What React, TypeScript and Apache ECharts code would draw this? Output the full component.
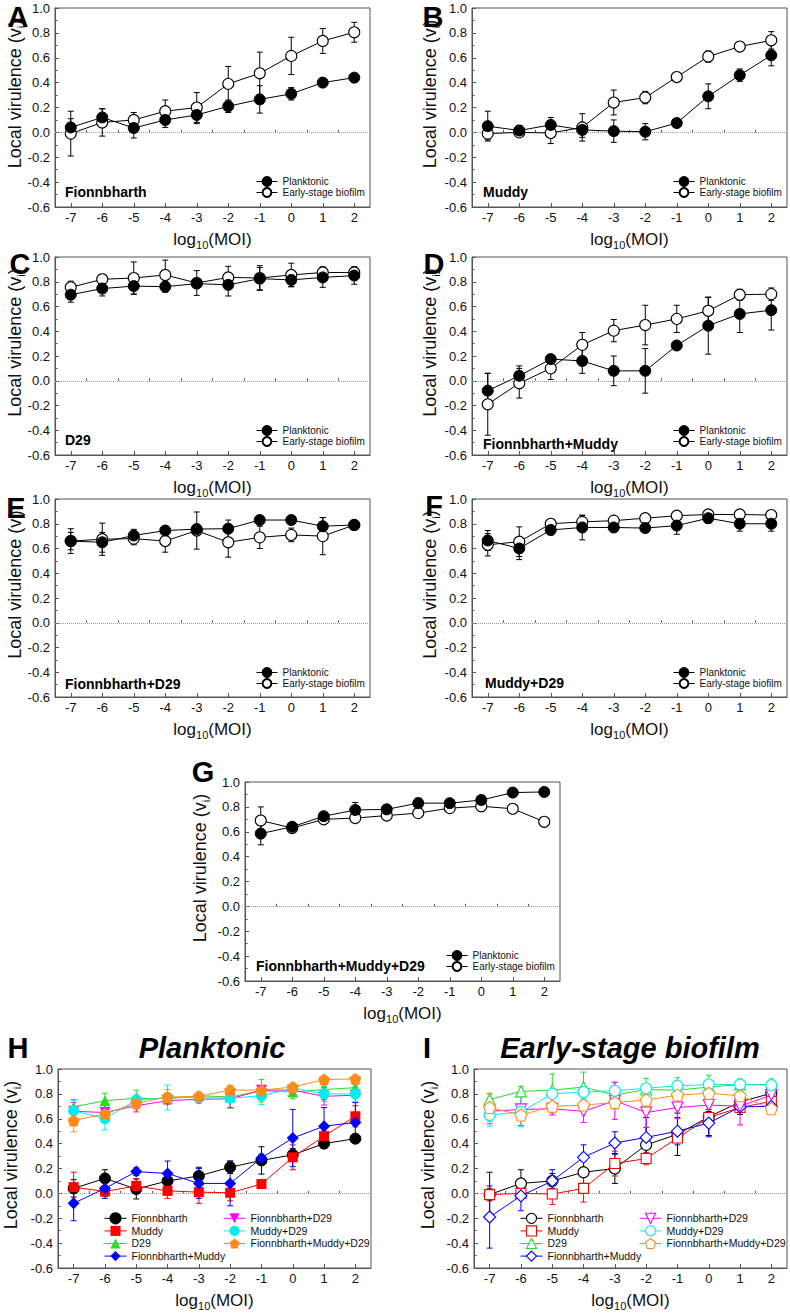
import React, { useEffect, useRef } from "react";
import * as echarts from "echarts";

const FONT = '"Liberation Sans", Arial, Helvetica, sans-serif';

// ---------- data ----------
const logMOI = [-7, -6, -5, -4, -3, -2, -1, 0, 1, 2];
const xTickValues = [-7, -6, -5, -4, -3, -2, -1, 0, 1, 2];
const xMinorTickValues = [-6.5, -5.5, -4.5, -3.5, -2.5, -1.5, -0.5, 0.5, 1.5];

const phageNames = [
  "Fionnbharth",
  "Muddy",
  "D29",
  "Fionnbharth+Muddy",
  "Fionnbharth+D29",
  "Muddy+D29",
  "Fionnbharth+Muddy+D29",
];
const stateNames = ["Planktonic", "Early-stage biofilm"];
const panelLetters = ["A", "B", "C", "D", "E", "F", "G", "H", "I"];
const summaryTitles = ["Planktonic", "Early-stage biofilm"];

// Fionnbharth
const fionnPlank = [0.04, 0.12, 0.035, 0.1, 0.14, 0.21, 0.265, 0.31, 0.4, 0.44];
const fionnPlankErr = [0.07, 0.07, 0.08, 0.06, 0.07, 0.05, 0.11, 0.05, 0.03, 0.02];
const fionnBio = [-0.01, 0.08, 0.1, 0.17, 0.2, 0.39, 0.475, 0.615, 0.735, 0.805];
const fionnBioErr = [0.18, 0.11, 0.06, 0.09, 0.12, 0.14, 0.17, 0.15, 0.1, 0.08];
// Muddy
const muddyPlank = [0.05, 0.015, 0.06, 0.02, 0.01, 0.005, 0.075, 0.29, 0.46, 0.62];
const muddyPlankErr = [0.12, 0.04, 0.06, 0.06, 0.09, 0.065, 0.03, 0.1, 0.05, 0.085];
const muddyBio = [-0.01, 0.0, -0.005, 0.04, 0.24, 0.28, 0.445, 0.61, 0.69, 0.74];
const muddyBioErr = [0.05, 0.03, 0.085, 0.11, 0.1, 0.05, 0.02, 0.045, 0.02, 0.07];
// D29
const d29Plank = [0.695, 0.745, 0.765, 0.76, 0.785, 0.775, 0.825, 0.815, 0.835, 0.85];
const d29PlankErr = [0.06, 0.06, 0.065, 0.045, 0.03, 0.09, 0.09, 0.055, 0.08, 0.07];
const d29Bio = [0.755, 0.82, 0.83, 0.855, 0.79, 0.835, 0.83, 0.855, 0.875, 0.875];
const d29BioErr = [0.05, 0.04, 0.13, 0.12, 0.1, 0.09, 0.1, 0.095, 0.045, 0.045];
// Fionnbharth+Muddy
const fmPlank = [-0.08, 0.04, 0.175, 0.16, 0.08, 0.08, 0.285, 0.445, 0.54, 0.57];
const fmPlankErr = [0.14, 0.08, 0.03, 0.1, 0.12, 0.18, 0.03, 0.23, 0.15, 0.16];
const fmBio = [-0.19, -0.02, 0.1, 0.29, 0.405, 0.45, 0.5, 0.565, 0.695, 0.7];
const fmBioErr = [0.25, 0.12, 0.09, 0.1, 0.09, 0.16, 0.11, 0.11, 0.045, 0.05];
// Fionnbharth+D29
const fdPlank = [0.66, 0.65, 0.705, 0.745, 0.757, 0.76, 0.83, 0.83, 0.78, 0.79];
const fdPlankErr = [0.07, 0.08, 0.05, 0.03, 0.03, 0.07, 0.03, 0.02, 0.07, 0.02];
const fdBio = [0.66, 0.675, 0.68, 0.66, 0.745, 0.65, 0.69, 0.71, 0.7, 0.79];
const fdBioErr = [0.1, 0.13, 0.05, 0.09, 0.15, 0.12, 0.09, 0.055, 0.15, 0.02];
// Muddy+D29
const mdPlank = [0.665, 0.6, 0.75, 0.77, 0.77, 0.765, 0.785, 0.845, 0.8, 0.8];
const mdPlankErr = [0.08, 0.09, 0.04, 0.1, 0.02, 0.03, 0.07, 0.04, 0.06, 0.06];
const mdBio = [0.63, 0.655, 0.8, 0.815, 0.825, 0.845, 0.865, 0.875, 0.875, 0.87];
const mdBioErr = [0.09, 0.12, 0.02, 0.05, 0.02, 0.02, 0.02, 0.02, 0.02, 0.02];
// Fionnbharth+Muddy+D29
const fmdPlank = [0.585, 0.64, 0.725, 0.775, 0.78, 0.83, 0.83, 0.855, 0.915, 0.92];
const fmdPlankErr = [0.09, 0.02, 0.03, 0.06, 0.02, 0.04, 0.02, 0.02, 0.02, 0.01];
const fmdBio = [0.69, 0.63, 0.7, 0.71, 0.73, 0.75, 0.79, 0.805, 0.785, 0.68];
const fmdBioErr = [0.11, 0.02, 0.03, 0.03, 0.03, 0.02, 0.02, 0.02, 0.02, 0.02];

const plankVals = [fionnPlank, muddyPlank, d29Plank, fmPlank, fdPlank, mdPlank, fmdPlank];
const plankErrs = [fionnPlankErr, muddyPlankErr, d29PlankErr, fmPlankErr, fdPlankErr, mdPlankErr, fmdPlankErr];
const bioVals = [fionnBio, muddyBio, d29Bio, fmBio, fdBio, mdBio, fmdBio];
const bioErrs = [fionnBioErr, muddyBioErr, d29BioErr, fmBioErr, fdBioErr, mdBioErr, fmdBioErr];

// ---------- styles / layout ----------
const phageColors = ["#000000", "#ff0000", "#22e022", "#0000ff", "#ff00ff", "#00eeee", "#ff8c1a"];
const phageSymbols = [
  "circle",
  "rect",
  "triangle",
  "diamond",
  "path://M0,0L10,0L5,9Z",
  "circle",
  "path://M5,0L10,3.6L8.1,9.5L1.9,9.5L0,3.6Z",
];
const phageSymbolSizes = [11, 10, 11, 12, 11, 11, 12];

const gridBoxes = [
  { left: 55, top: 8, width: 315, height: 199, nameGap: 29 },
  { left: 472, top: 8, width: 315, height: 199, nameGap: 31 },
  { left: 55, top: 257, width: 315, height: 198, nameGap: 29 },
  { left: 472, top: 257, width: 315, height: 198, nameGap: 31 },
  { left: 55, top: 499, width: 315, height: 198, nameGap: 29 },
  { left: 472, top: 499, width: 315, height: 198, nameGap: 31 },
  { left: 245, top: 782, width: 315, height: 199, nameGap: 34 },
  { left: 58, top: 1069, width: 313, height: 199, nameGap: 36 },
  { left: 474, top: 1069, width: 313, height: 199, nameGap: 35 },
];
const letterPos = [
  [18, 17], [433, 17], [20, 264], [434, 264], [16, 508], [434, 506], [203, 772], [18, 1048], [427, 1048],
];
const innerLabelPos = [
  [65, 192], [483, 192], [65, 440], [483, 444], [65, 684], [485, 683], [256, 966],
];
const summaryTitlePos = [
  [212, 1048], [630, 1048],
];

function errorBarSeries(k: number, vals: number[], errs: number[], color: string) {
  return {
    type: "custom",
    xAxisIndex: 2 * k,
    yAxisIndex: k,
    silent: true,
    z: 2,
    clip: false,
    encode: { x: 0, y: [1, 2] },
    data: logMOI.map((x, i) => [x, vals[i] - errs[i], vals[i] + errs[i]]),
    renderItem: (_params: any, api: any) => {
      const x = api.value(0);
      const lo = api.coord([x, api.value(1)]);
      const hi = api.coord([x, api.value(2)]);
      const st = { stroke: color, lineWidth: 1 };
      return {
        type: "group",
        children: [
          { type: "line", shape: { x1: lo[0], y1: lo[1], x2: hi[0], y2: hi[1] }, style: st },
          { type: "line", shape: { x1: lo[0] - 3, y1: lo[1], x2: lo[0] + 3, y2: lo[1] }, style: st },
          { type: "line", shape: { x1: hi[0] - 3, y1: hi[1], x2: hi[0] + 3, y2: hi[1] }, style: st },
        ],
      };
    },
  };
}

function lineSeries(
  k: number,
  name: string,
  vals: number[],
  color: string,
  symbol: string,
  size: number,
  filled: boolean,
  withZero: boolean,
  z: number
) {
  const s: any = {
    type: "line",
    name,
    xAxisIndex: 2 * k,
    yAxisIndex: k,
    data: logMOI.map((x, i) => [x, vals[i]]),
    symbol,
    symbolSize: size,
    showAllSymbol: true,
    lineStyle: { color, width: 1 },
    itemStyle: { color: filled ? color : "#ffffff", borderColor: color, borderWidth: filled ? 0 : 1.1, opacity: 1 },
    emphasis: { disabled: true },
    z,
  };
  if (filled && color === "#000000") s.itemStyle.borderWidth = 1;
  if (withZero) {
    s.markLine = {
      silent: true,
      symbol: "none",
      label: { show: false },
      lineStyle: { color: "#9a9a9a", type: "dotted", width: 1 },
      data: [{ yAxis: 0 }],
      z: 1,
    };
  }
  return s;
}

function buildOption() {
  const grid: any[] = [];
  const xAxis: any[] = [];
  const yAxis: any[] = [];
  const series: any[] = [];
  const legend: any[] = [];
  const graphic: any[] = [];

  gridBoxes.forEach((g, k) => {
    grid.push({
      left: g.left,
      top: g.top,
      width: g.width,
      height: g.height,
      show: true,
      borderColor: "#555",
      borderWidth: 1,
      backgroundColor: "transparent",
    });
    xAxis.push({
      type: "value",
      gridIndex: k,
      position: "bottom",
      min: -7.5,
      max: 2.5,
      axisLine: { show: true, onZero: false, lineStyle: { color: "#555", width: 1 } },
      axisTick: { show: true, inside: true, length: 4, customValues: xTickValues, lineStyle: { color: "#555" } },
      axisLabel: {
        show: true,
        customValues: xTickValues,
        formatter: (v: number) => String(v),
        fontSize: 13,
        color: "#111",
        margin: 4,
        fontFamily: FONT,
      },
      splitLine: { show: false },
      name: "{a|log}{b|10}{a|(MOI)}",
      nameLocation: "middle",
      nameGap: 21,
      nameMoveOverlap: false,
      nameTextStyle: {
        color: "#111",
        fontFamily: FONT,
        rich: {
          a: { fontSize: 17, lineHeight: 22, fontFamily: FONT, color: "#111" },
          b: { fontSize: 11, lineHeight: 11, verticalAlign: "bottom", fontFamily: FONT, color: "#111" },
        },
      },
    });
    xAxis.push({
      type: "value",
      gridIndex: k,
      position: "bottom",
      min: -7.5,
      max: 2.5,
      axisLine: { show: false },
      axisTick: { show: true, inside: true, length: 2.5, customValues: xMinorTickValues, lineStyle: { color: "#555" } },
      axisLabel: { show: false },
      splitLine: { show: false },
    });
    yAxis.push({
      type: "value",
      gridIndex: k,
      min: -0.6,
      max: 1.0,
      interval: 0.2,
      axisLine: { show: true, onZero: false, lineStyle: { color: "#555", width: 1 } },
      axisTick: { show: true, inside: true, length: 4, lineStyle: { color: "#555" } },
      minorTick: { show: true, splitNumber: 2, length: 2.5, lineStyle: { color: "#555" } },
      axisLabel: {
        formatter: (v: number) => (Math.abs(v) < 1e-9 ? 0 : v).toFixed(1),
        fontSize: 13,
        color: "#111",
        margin: 5,
        fontFamily: FONT,
      },
      splitLine: { show: false },
      minorSplitLine: { show: false },
      name: "{a|Local virulence (v}{b|i}{a|)}",
      nameLocation: "middle",
      nameGap: g.nameGap,
      nameMoveOverlap: false,
      nameTextStyle: {
        color: "#111",
        fontFamily: FONT,
        padding: [0, 0, 0, 27],
        rich: {
          a: { fontSize: 18, lineHeight: 22, fontFamily: FONT, color: "#111" },
          b: { fontSize: 11, lineHeight: 11, verticalAlign: "bottom", fontFamily: FONT, color: "#111" },
        },
      },
    });
    graphic.push({
      type: "text",
      x: letterPos[k][0],
      y: letterPos[k][1],
      style: {
        text: panelLetters[k],
        font: `bold 29px ${FONT}`,
        fill: "#000",
        textAlign: "center",
        textVerticalAlign: "middle",
      },
    });
  });

  // Panels A-G
  for (let k = 0; k < 7; k++) {
    series.push(errorBarSeries(k, bioVals[k], bioErrs[k], "#000"));
    series.push(errorBarSeries(k, plankVals[k], plankErrs[k], "#000"));
    series.push(lineSeries(k, stateNames[1], bioVals[k], "#000000", "circle", 11, false, true, 3));
    series.push(lineSeries(k, stateNames[0], plankVals[k], "#000000", "circle", 11, true, false, 4));
    const g = gridBoxes[k];
    legend.push({
      orient: "vertical",
      left: g.left + 201,
      top: g.top + 168,
      padding: 0,
      itemWidth: 21,
      itemHeight: 11,
      itemGap: 0,
      selectedMode: false,
      lineStyle: { width: 1 },
      textStyle: { fontSize: 10, color: "#111", fontFamily: FONT, lineHeight: 11 },
      data: stateNames.slice(),
    });
    graphic.push({
      type: "text",
      x: innerLabelPos[k][0],
      y: innerLabelPos[k][1],
      style: {
        text: phageNames[k],
        font: `bold 14px ${FONT}`,
        fill: "#000",
        textAlign: "left",
        textVerticalAlign: "middle",
      },
    });
  }

  // Panels H (planktonic, filled) and I (biofilm, open)
  [7, 8].forEach((k) => {
    const filled = k === 7;
    const vals = filled ? plankVals : bioVals;
    const errs = filled ? plankErrs : bioErrs;
    phageNames.forEach((nm, j) => {
      series.push(errorBarSeries(k, vals[j], errs[j], phageColors[j]));
    });
    phageNames.forEach((nm, j) => {
      series.push(
        lineSeries(k, nm, vals[j], phageColors[j], phageSymbols[j], phageSymbolSizes[j], filled, j === 0, 3 + j * 0.01)
      );
    });
    const g = gridBoxes[k];
    const mkData = (names: string[], offset: number) =>
      names.map((nm, j) =>
        filled
          ? { name: nm }
          : {
              name: nm,
              itemStyle: { color: "#ffffff", borderColor: phageColors[offset + j], borderWidth: 1.1 },
            }
      );
    const common = {
      orient: "vertical",
      top: g.top + 143,
      padding: 0,
      itemWidth: 22,
      itemHeight: 12.6,
      itemGap: 0,
      selectedMode: false,
      lineStyle: { width: 1 },
      textStyle: { fontSize: 10.5, color: "#111", fontFamily: FONT, lineHeight: 12.6 },
    };
    legend.push({ ...common, left: g.left + 46, data: mkData(phageNames.slice(0, 4), 0) });
    legend.push({ ...common, left: g.left + 165, data: mkData(phageNames.slice(4), 4) });
  });

  summaryTitles.forEach((t, i) => {
    graphic.push({
      type: "text",
      x: summaryTitlePos[i][0],
      y: summaryTitlePos[i][1],
      style: {
        text: t,
        font: `italic bold 29px ${FONT}`,
        fill: "#000",
        textAlign: "center",
        textVerticalAlign: "middle",
      },
    });
  });

  return {
    animation: false,
    backgroundColor: "#ffffff",
    textStyle: { fontFamily: FONT },
    grid,
    xAxis,
    yAxis,
    legend,
    series,
    graphic,
  };
}

export default function App() {
  const ref = useRef<HTMLDivElement>(null);
  useEffect(() => {
    document.body.style.margin = "0";
    const chart = echarts.init(ref.current as HTMLDivElement, null, { renderer: "svg" });
    chart.setOption(buildOption() as any);
    return () => {
      chart.dispose();
    };
  }, []);
  return <div ref={ref} style={{ width: 790, height: 1313 }} />;
}
